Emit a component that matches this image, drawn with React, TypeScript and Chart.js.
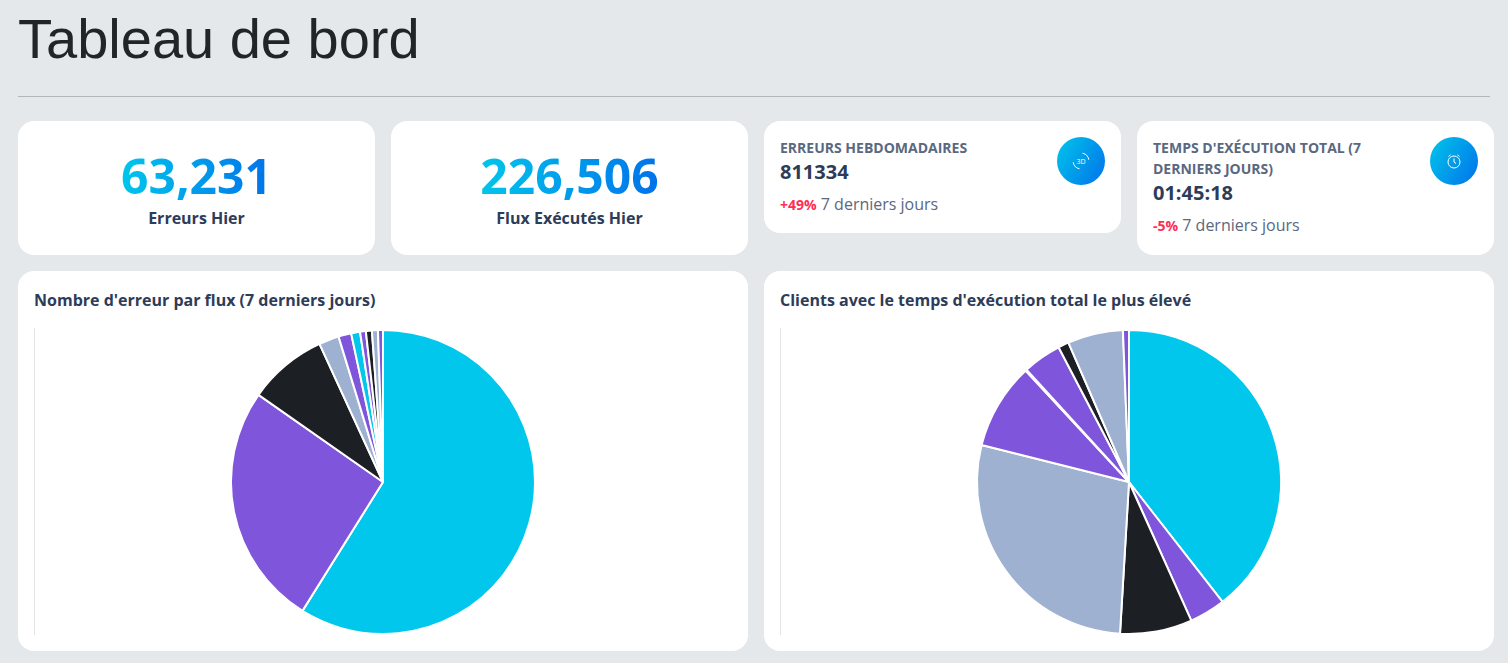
import React, { useEffect, useRef } from "react";
import { Chart, registerables } from "chart.js";

Chart.register(...registerables);

const errorFlowLabels = ["Flux 1", "Flux 2", "Flux 3", "Flux 4", "Flux 5", "Flux 6", "Flux 7", "Flux 8", "Flux 9", "Flux 10"];
const errorFlowValues = [212, 93, 30.3, 7.7, 4.9, 3.4, 2.2, 2.3, 2.3, 1.9];
const clientLabels = ["Client 1", "Client 2", "Client 3", "Client 4", "Client 5", "Client 6", "Client 7", "Client 8", "Client 9", "Client 10"];
const clientValues = [142, 13.8, 27.6, 100.7, 33, 0.5, 14.8, 4.1, 21.2, 2.3];
const sliceColors = ["#00C7EB", "#7F56DB", "#1C2024", "#9FB1D0", "#7F56DB"];

const FONT = '"Open Sans", sans-serif';
const GRADIENT = "linear-gradient(120deg, #00C6EB 0%, #0072EA 100%)";

function Pie({ labels, values }: { labels: string[]; values: number[] }) {
  const ref = useRef<HTMLCanvasElement | null>(null);
  useEffect(() => {
    if (!ref.current) return;
    const chart = new Chart(ref.current, {
      type: "pie",
      data: {
        labels,
        datasets: [{
          data: values,
          backgroundColor: labels.map((_, i) => sliceColors[i % sliceColors.length]),
          borderColor: "#ffffff",
          borderWidth: 2,
        }],
      },
      options: {
        animation: false,
        responsive: false,
        maintainAspectRatio: false,
        layout: { padding: { top: 1, bottom: 0 } },
        plugins: { legend: { display: false }, tooltip: { enabled: false } },
      },
    });
    return () => chart.destroy();
  }, [labels, values]);
  return <canvas ref={ref} width={698} height={307} style={{ display: "block", width: 698, height: 307 }} />;
}

const box = (x: number, y: number, w: number, h: number): React.CSSProperties => ({
  position: "absolute", left: x, top: y, width: w, height: h, background: "#fff", borderRadius: 16,
});

const at = (x: number, y: number, extra: React.CSSProperties): React.CSSProperties => ({
  position: "absolute", left: x, top: y, whiteSpace: "nowrap", fontFamily: FONT, ...extra,
});

function Big({ value, label, x }: { value: string; label: string; x: number }) {
  return (
    <div style={box(x, 121, 357, 134)}>
      <div style={{ position: "absolute", left: 0, right: 0, top: 21, textAlign: "center", lineHeight: "68px" }}>
        <span style={{
          fontFamily: FONT, fontSize: 48, fontWeight: 700, letterSpacing: 0,
          background: "linear-gradient(90deg, #00C6EB 0%, #0072EA 100%)",
          WebkitBackgroundClip: "text", backgroundClip: "text", color: "transparent", WebkitTextFillColor: "transparent",
        }}>{value}</span>
      </div>
      <div style={{ position: "absolute", left: 0, right: 0, top: 86, textAlign: "center", fontFamily: FONT, fontSize: 16, fontWeight: 700, lineHeight: "22px", color: "#2D3C58" }}>{label}</div>
    </div>
  );
}

function Icon({ kind }: { kind: "3d" | "clock" }) {
  return (
    <div style={{ position: "absolute", left: 293, top: 16, width: 48, height: 48, borderRadius: "50%", background: GRADIENT }}>
      <svg width="48" height="48" viewBox="0 0 48 48" fill="none" stroke="#fff" strokeWidth="1" style={{ position: "absolute", left: 0, top: 0 }}>
        {kind === "3d" ? (
          <g>
            <path d="M25.5 16.2a8 8 0 0 1 6.3 6.5" />
            <path d="M22.5 31.8a8 8 0 0 1-6.3-6.5" />
            <text x="24" y="26.6" textAnchor="middle" fontSize="7" fill="#fff" stroke="none" fontFamily={FONT}>3D</text>
          </g>
        ) : (
          <g>
            <circle cx="24" cy="25" r="6" />
            <path d="M24 21.5V25l2 1.5" />
            <path d="M18.5 19.5l2-1.8M29.5 19.5l-2-1.8" />
          </g>
        )}
      </svg>
    </div>
  );
}

function Stat({ x, h, lines, value, pct, kind }: { x: number; h: number; lines: string[]; value: string; pct: string; kind: "3d" | "clock" }) {
  const off = (lines.length - 1) * 21;
  return (
    <div style={box(x, 121, 357, h)}>
      {lines.map((l, i) => (
        <div key={l} style={at(16, 16 + i * 21, { fontSize: 14, fontWeight: 700, lineHeight: "21px", color: "#5A6880" })}>{l}</div>
      ))}
      <div style={at(16, 37 + off, { fontSize: 20, fontWeight: 700, lineHeight: "28px", color: "#2D3C58" })}>{value}</div>
      <div style={at(16, 72 + off, { fontSize: 16, lineHeight: "22px", color: "#5A6880" })}>
        <span style={{ fontSize: 14, fontWeight: 700, color: "#FF2D55" }}>{pct}</span> 7 derniers jours
      </div>
      <Icon kind={kind} />
    </div>
  );
}

function PieCard({ x, title, labels, values }: { x: number; title: string; labels: string[]; values: number[] }) {
  return (
    <div style={box(x, 271, 730, 380)}>
      <div style={at(16, 18, { fontSize: 16, fontWeight: 700, lineHeight: "22px", color: "#2D3C58" })}>{title}</div>
      <div style={{ position: "absolute", left: 16, top: 57, width: 1, height: 307, background: "#E2E4E8" }} />
      <div style={{ position: "absolute", left: 16, top: 57 }}>
        <Pie labels={labels} values={values} />
      </div>
    </div>
  );
}

export default function App() {
  useEffect(() => {
    document.body.style.margin = "0";
    document.body.style.background = "#E4E8EB";
  }, []);
  return (
    <div style={{ position: "absolute", left: 0, top: 0, width: 1508, height: 663, background: "#E4E8EB", overflow: "hidden" }}>
      <div style={{ position: "absolute", left: 18, top: 6, fontFamily: '"Liberation Sans", Arial, sans-serif', fontSize: 56, lineHeight: "66px", color: "#212529", whiteSpace: "nowrap" }}>Tableau de bord</div>
      <div style={{ position: "absolute", left: 18, top: 96, width: 1472, height: 1, background: "#B3B6B9" }} />
      <Big x={18} value="63,231" label="Erreurs Hier" />
      <Big x={391} value="226,506" label="Flux Exécutés Hier" />
      <Stat x={764} h={112} lines={["ERREURS HEBDOMADAIRES"]} value="811334" pct="+49%" kind="3d" />
      <Stat x={1137} h={134} lines={["TEMPS D'EXÉCUTION TOTAL (7", "DERNIERS JOURS)"]} value="01:45:18" pct="-5%" kind="clock" />
      <PieCard x={18} title="Nombre d'erreur par flux (7 derniers jours)" labels={errorFlowLabels} values={errorFlowValues} />
      <PieCard x={764} title="Clients avec le temps d'exécution total le plus élevé" labels={clientLabels} values={clientValues} />
    </div>
  );
}
